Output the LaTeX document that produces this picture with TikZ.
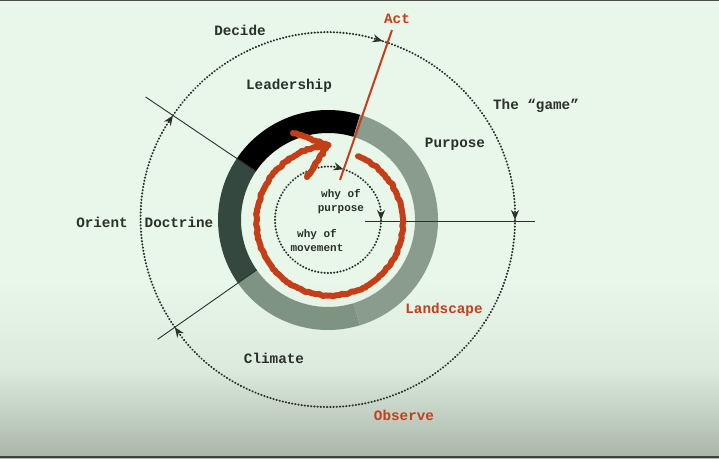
\documentclass[tikz,border=0pt]{standalone}
\usepackage{fontspec}
\setmonofont{Liberation Mono}
\usetikzlibrary{arrows.meta,positioning,decorations.pathmorphing}
\definecolor{bgtop}{HTML}{E8F7EA}
\definecolor{bgmid}{HTML}{DCEADD}
\definecolor{bgbot}{HTML}{A9B5A9}
\definecolor{oodared}{HTML}{C43E18}
\definecolor{ringdark}{HTML}{344840}
\definecolor{ringgray}{HTML}{8A9C8E}
\definecolor{ringlow}{HTML}{7F9383}
\definecolor{inkgray}{HTML}{2A302A}

\begin{document}
\begin{tikzpicture}[
	x=1pt,y=1pt,
	line join=round,
	lbl/.style={font=\ttfamily\bfseries\fontsize{14.3}{15}\selectfont, text=inkgray, inner sep=1pt},
	redlbl/.style={lbl, text=oodared},
	smalllbl/.style={font=\ttfamily\bfseries\fontsize{11}{14}\selectfont, text=inkgray, align=center, inner sep=1pt},
	loopedge/.style={draw=inkgray, line width=2pt, line cap=round, dash pattern=on .4pt off 2.8pt,
		-{Stealth[length=10pt,width=8pt,line cap=butt,sep=0pt]}},
	crossline/.style={draw=inkgray, line width=.9pt},
	chalk/.style={draw=oodared, line width=6pt, line cap=round, decorate,
		decoration={random steps, segment length=2pt, amplitude=1pt}}
	]
	
	% Radii: outer loop, ring, inner loop
	\def\Rloop{187}
	\def\Rout{110}
	\def\Rin{87}
	\def\Rwhy{53}
	
	% background
	\fill[bgtop] (-328,-238) rectangle (391,220);
	\shade[top color=bgtop, bottom color=bgbot, middle color=bgmid] (-328,-238) rectangle (391,-60);
	\fill[black!70] (-328,219) rectangle (391,220);
	\fill[black!75] (-328,-238) rectangle (391,-236);
	
	%------------------------------
	% ring segments
	%------------------------------
	\foreach \a/\b/\c in {73/146/black, 146/215/ringdark, 215/287/ringlow, 287/433/ringgray}{
		\fill[\c] (\a:\Rout) arc[start angle=\a, end angle=\b, radius=\Rout]
		-- (\b:\Rin) arc[start angle=\b, end angle=\a, radius=\Rin] -- cycle;
	}
	
	%------------------------------
	% outer loop (Observe, Orient, Decide, Act)
	%------------------------------
	\foreach \a/\b in {215/146, 146/73, 73/0, 360/215}{
		\draw[loopedge] (\a:\Rloop) arc[start angle=\a, end angle=\b, radius=\Rloop];
	}
	
	% inner loop
	\foreach \a/\b in {73/0, 0/-287}{
		\draw[loopedge] (\a:\Rwhy) arc[start angle=\a, end angle=\b, radius=\Rwhy];
	}
	
	%------------------------------
	% cross lines
	%------------------------------
	\coordinate (ulout) at (146:220);
	\coordinate (ulin) at (146:\Rin);
	\coordinate (llout) at (215:208);
	\coordinate (llin) at (215:\Rin);
	\coordinate (actout) at (64,190);
	\coordinate (actin) at (12,40);
	\coordinate (rin) at (37,-1);
	\coordinate (rout) at (207,-1);
	
	\draw[crossline] (ulout) -- (ulin);
	\draw[crossline] (llout) -- (llin);
	\draw[crossline] (rin) -- (rout);
	
	% the red cycle, drawn by hand
	\coordinate (tip) at (0,75);
	\draw[chalk] plot[domain=68:-268, samples=90]
		({3+(72+6*((68-\x)/336)^3)*cos(\x)}, {-3+(72+6*((68-\x)/336)^3)*sin(\x)}) -- (tip);
	\draw[chalk] (-35,87) -- (tip) -- (-21,43);
	
	\draw[oodared, line width=2pt] (actout) -- (actin);
	
	%------------------------------
	% labels
	%------------------------------
	\node[lbl] (decide) at (-88,190) {Decide};
	\node[redlbl] (act) at (69,201) {Act};
	\node[lbl] (leadership) at (-39,134) {Leadership};
	\node[lbl] (game) at (208,114) {The “game”};
	\node[lbl] (purpose) at (127,76) {Purpose};
	\node[lbl] (orient) at (-226,-2) {Orient};
	\node[lbl] (doctrine) at (-149,-2) {Doctrine};
	\node[redlbl] (landscape) at (116,-90) {Landscape};
	\node[lbl] (climate) at (-54,-138) {Climate};
	\node[redlbl] (observe) at (76,-195) {Observe};
	\node[smalllbl] (whypurpose) at (13,18) {why of\\purpose};
	\node[smalllbl] (whymove) at (-11,-20) {why of\\movement};
\end{tikzpicture}
\end{document}
